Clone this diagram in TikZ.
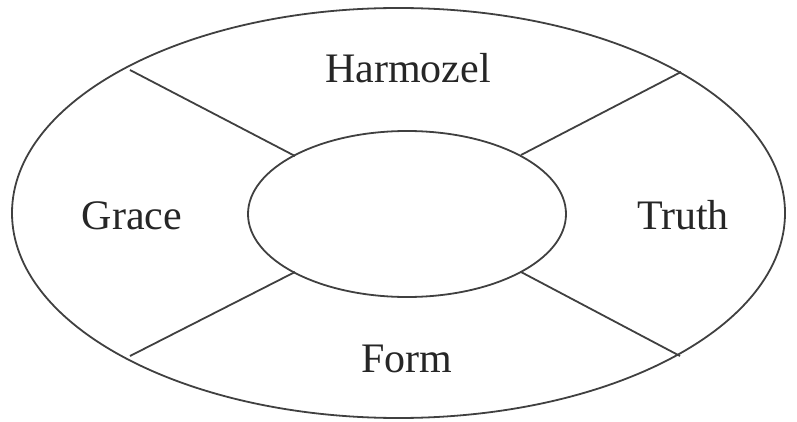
\documentclass[tikz,border=0pt]{standalone}
\usepackage{fontspec}
\setmainfont{Liberation Serif}
\begin{document}
\begin{tikzpicture}[x=1pt,y=-1pt,
  ln/.style={draw=black!75,line width=1.8pt},
  lbl/.style={anchor=base,inner sep=0pt,font=\fontsize{42}{50}\selectfont,text=black!85}]
\useasboundingbox (0,0) rectangle (797,422);
\draw[ln] (398.5,213) ellipse [x radius=386.5,y radius=205];
\draw[ln] (407,214) ellipse [x radius=159,y radius=83];
\coordinate (o1) at (130,70);
\coordinate (o2) at (681,72);
\coordinate (o3) at (130,356);
\coordinate (o4) at (680,356);
\coordinate (i1) at (295,156);
\coordinate (i2) at (521,155);
\coordinate (i3) at (295,272);
\coordinate (i4) at (521,272);
\draw[ln] (o1) -- (i1);
\draw[ln] (o2) -- (i2);
\draw[ln] (o3) -- (i3);
\draw[ln] (o4) -- (i4);
\node[lbl] (h) at (408,83) {Harmozel};
\node[lbl] (g) at (132,229) {Grace};
\node[lbl] (t) at (683,229) {Truth};
\node[lbl] (f) at (407,372) {Form};
\end{tikzpicture}
\end{document}
